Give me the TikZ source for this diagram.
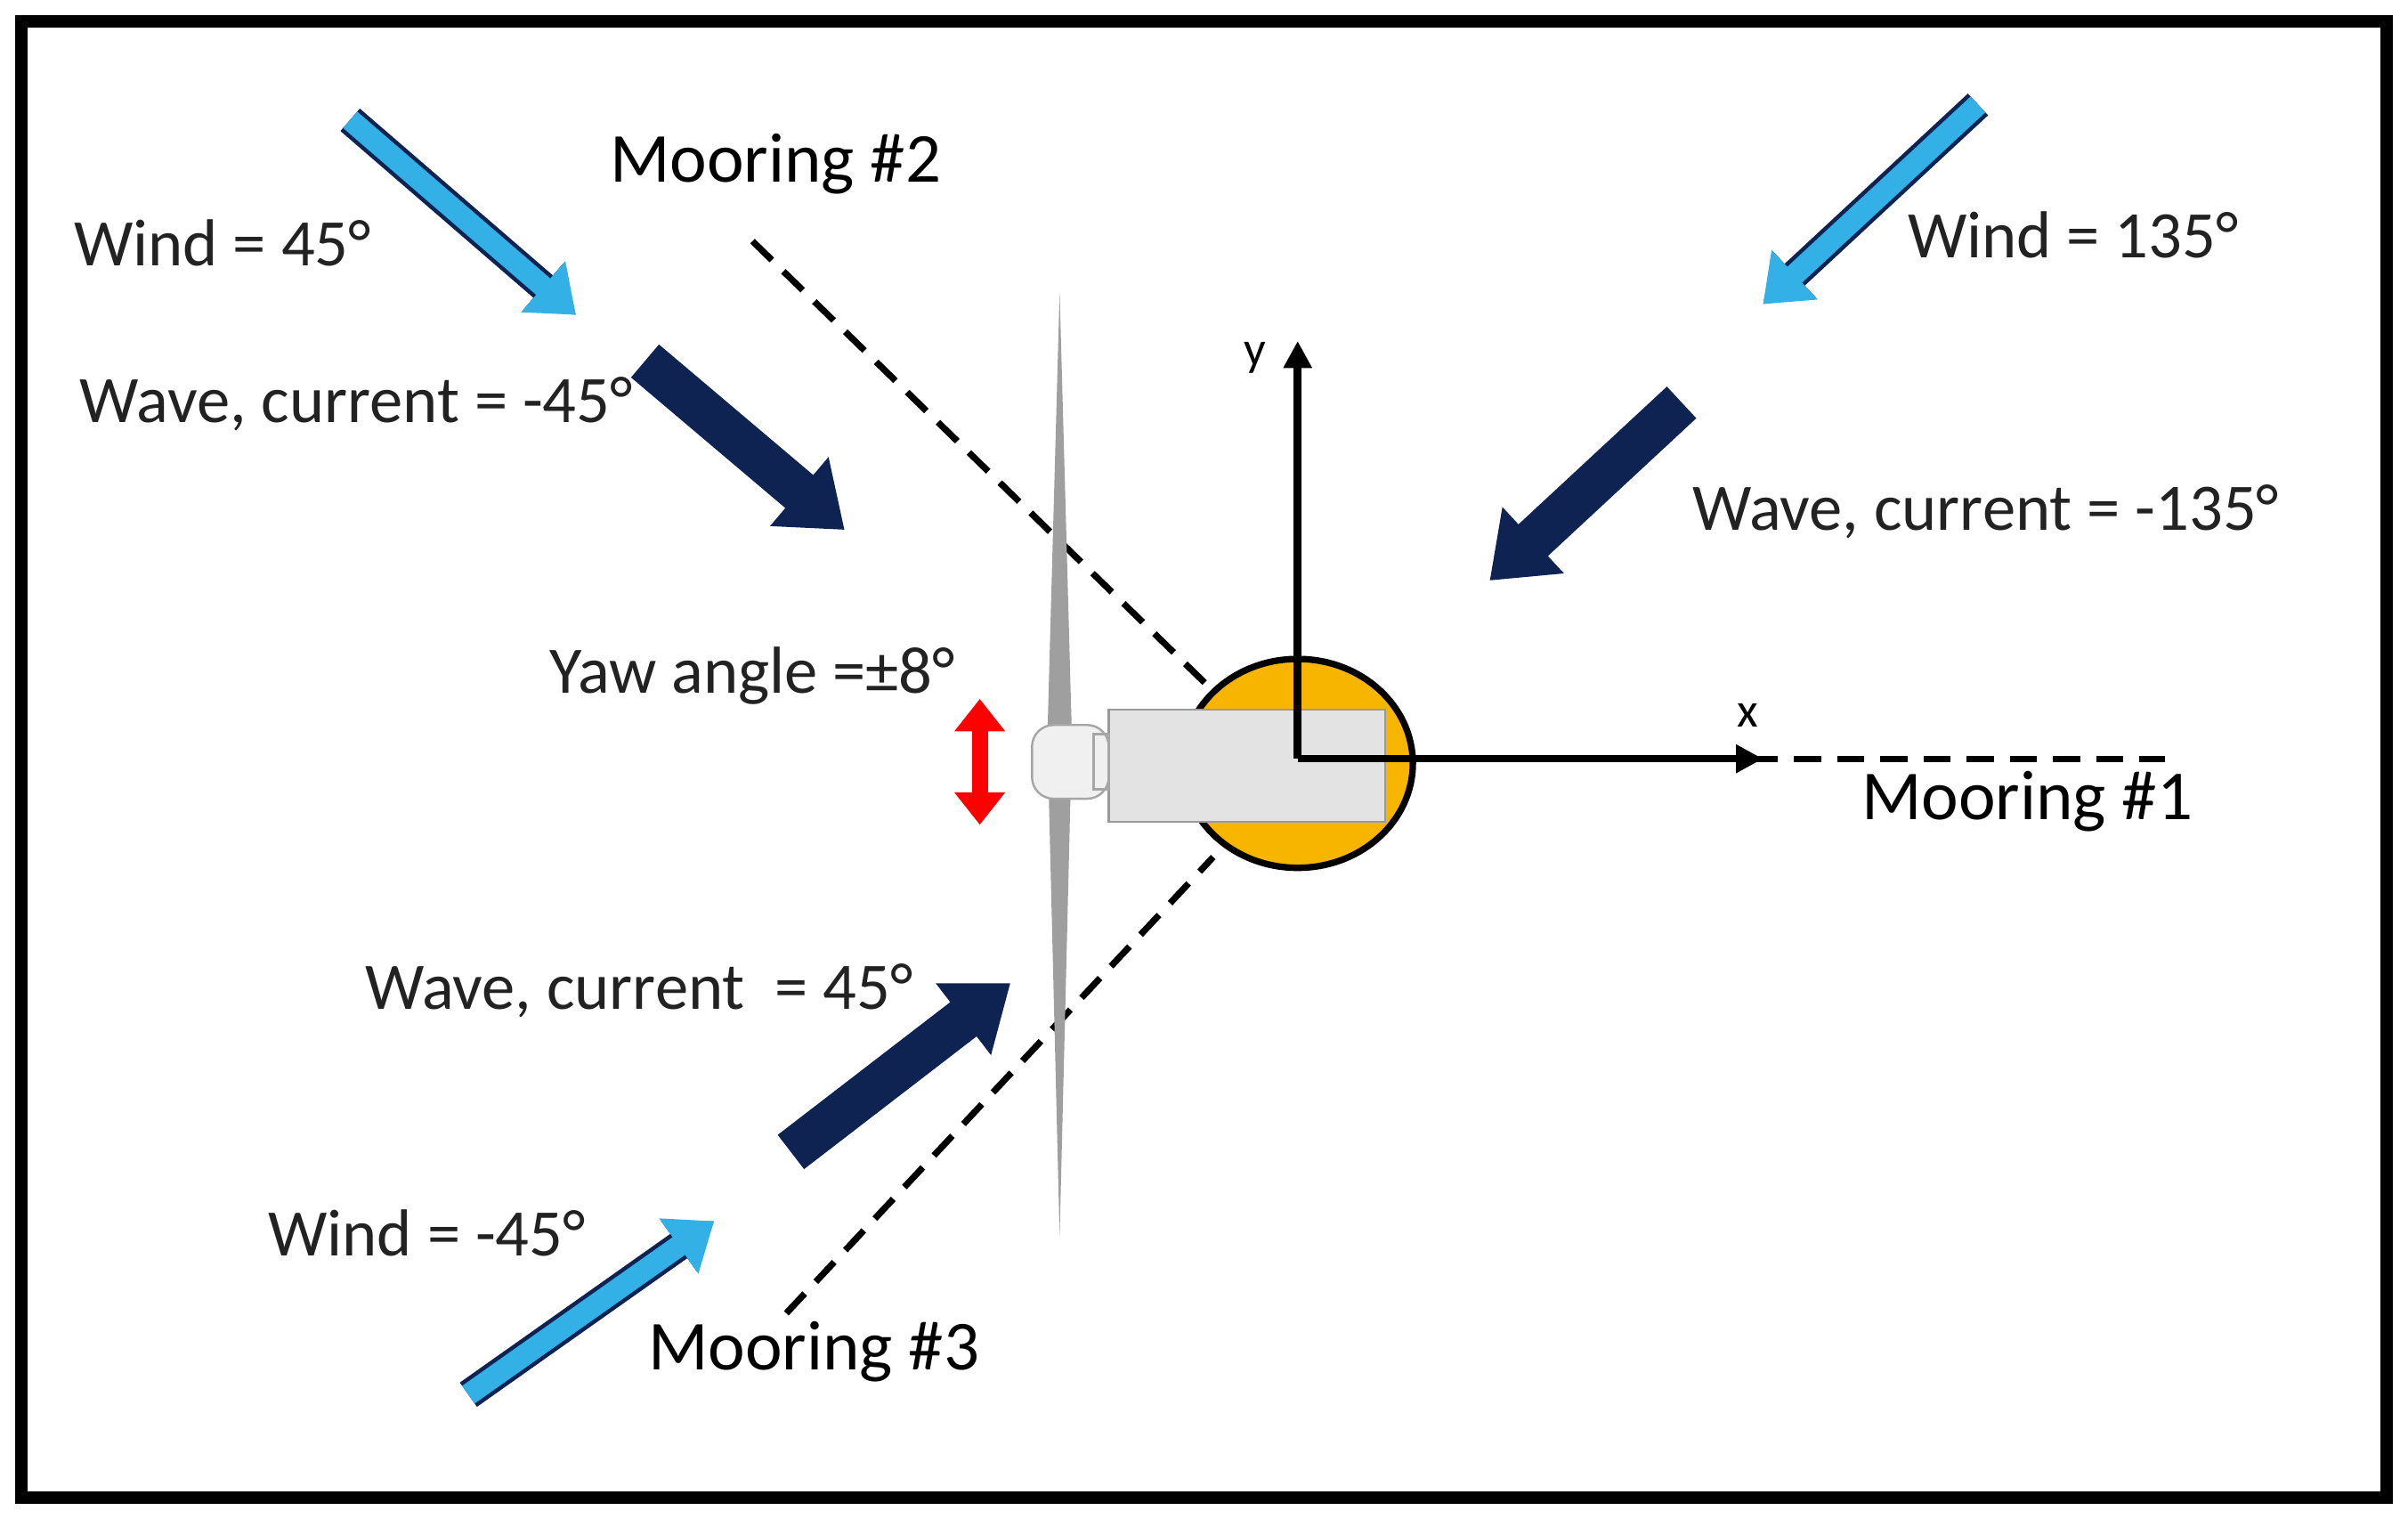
\documentclass[tikz,border=0pt]{standalone}
\usepackage{fontspec}
\setmainfont{Carlito}
\usetikzlibrary{arrows.meta,shapes.geometric}
\definecolor{lb}{HTML}{33B0E6}
\definecolor{navy}{HTML}{0E2352}
\definecolor{gold}{HTML}{F7B500}
\definecolor{txt}{HTML}{222222}
\begin{document}
\begin{tikzpicture}[x=0.01cm,y=-0.01cm,
  lbl/.style={font=\fontsize{12.3}{14}\selectfont,text=txt},
  big/.style={font=\fontsize{13}{15}\selectfont,text=black},
  wind/.style={draw=lb,line width=4pt,-{Triangle[length=8pt,width=12pt]}},
  wave/.style={draw=navy,line width=8pt,-{Triangle[length=11pt,width=16pt]}},
  moor/.style={line width=1.2pt,dash pattern=on 5pt off 3pt},
  ax/.style={line width=1.4pt,-{Triangle[length=5pt,width=5pt]}}]
\useasboundingbox (0,0) rectangle (1568,994);
\draw[line width=2.4pt] (14,14) rectangle (1554,975);
% moorings
\coordinate (m2a) at (490,157); \coordinate (m2b) at (785,445);
\coordinate (m3a) at (512,855); \coordinate (m3b) at (790,558);
\coordinate (m1a) at (1140,494); \coordinate (m1b) at (1410,494);
\draw[moor] (m2a) -- (m2b);
\draw[moor] (m3a) -- (m3b);
\draw[moor] (m1a) -- (m1b);
% blade
\fill[gray!75] (690,190) -- (698,480) -- (690,805) -- (682,480) -- cycle;
% float
\node[ellipse,draw,fill=gold,line width=1.2pt,minimum width=150*0.01cm,minimum height=136*0.01cm,inner sep=0] (fl) at (845,497) {};
% nacelle
\draw[fill=gray!22,draw=gray!80] (722,462) rectangle (902,535);
\draw[fill=gray!12,draw=gray!70,rounded corners=4] (672,472) rectangle (722,520);
\draw[draw=gray!70] (712,478) rectangle (722,514);
% axes
\coordinate (o) at (845,494);
\coordinate (yt) at (845,222); \coordinate (xt) at (1148,494);
\draw[ax] (o) -- (yt);
\draw[ax] (o) -- (xt);
\node[font=\fontsize{9}{10}\selectfont] (ly) at (817,233) {y};
\node[font=\fontsize{9}{10}\selectfont] (lx) at (1138,466) {x};
% red yaw arrow
\coordinate (ra) at (638,455); \coordinate (rb) at (638,537);
\draw[red,line width=3pt,{Triangle[length=6pt,width=9pt]}-{Triangle[length=6pt,width=9pt]}] (ra) -- (rb);
% flow arrows
\coordinate (w1a) at (228,78); \coordinate (w1b) at (375,205);
\coordinate (v1a) at (420,235); \coordinate (v1b) at (550,345);
\coordinate (w2a) at (1288,68); \coordinate (w2b) at (1148,198);
\coordinate (v2a) at (1095,262); \coordinate (v2b) at (970,378);
\coordinate (v3a) at (515,750); \coordinate (v3b) at (658,640);
\coordinate (w3a) at (305,908); \coordinate (w3b) at (465,795);
\draw[navy,line width=5.5pt,-{Triangle[length=8pt,width=11pt]}] (w1a) -- (w1b);
\draw[wind] (w1a) -- (w1b);
\draw[navy,line width=5.5pt,-{Triangle[length=8pt,width=11pt]}] (w2a) -- (w2b);
\draw[wind] (w2a) -- (w2b);
\draw[navy,line width=5.5pt,-{Triangle[length=8pt,width=11pt]}] (w3a) -- (w3b);
\draw[wind] (w3a) -- (w3b);
\draw[wave] (v1a) -- (v1b);
\draw[wave] (v2a) -- (v2b);
\draw[wave] (v3a) -- (v3b);
% labels
\node[big] (t1) at (505,107) {Mooring \#2};
\node[lbl] (t2) at (145,158) {Wind = 45°};
\node[lbl] (t3) at (232,263) {Wave, current = -45°};
\node[lbl] (t4) at (1350,153) {Wind = 135°};
\node[lbl] (t5) at (1293,333) {Wave, current = -135°};
\node[lbl] (t6) at (490,440) {Yaw angle =±8°};
\node[big] (t7) at (1320,522) {Mooring \#1};
\node[lbl] (t8) at (416,645) {Wave, current\ \ = 45°};
\node[lbl] (t9) at (278,803) {Wind = -45°};
\node[big] (t10) at (530,880) {Mooring \#3};
\end{tikzpicture}
\end{document}
